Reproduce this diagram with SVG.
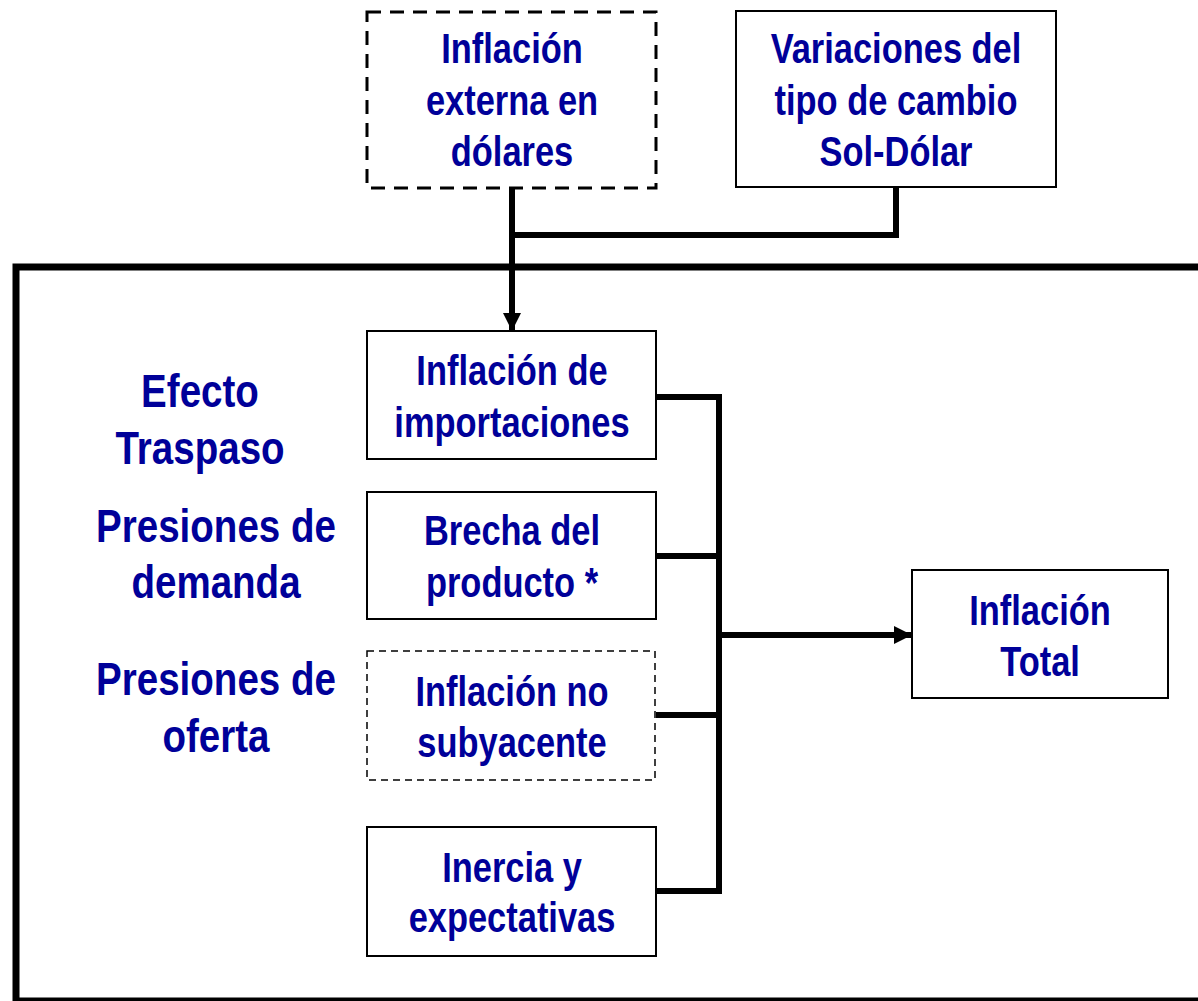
<svg xmlns="http://www.w3.org/2000/svg" width="1198" height="1001" viewBox="0 0 1198 1001">
<style>
text{font-family:"Liberation Sans","Arial",sans-serif;font-weight:bold;fill:#000099;text-anchor:middle}
.t{font-size:42px}
.l{font-size:47px}
.box{fill:#fff;stroke:#000;stroke-width:2}
.dash{fill:#fff;stroke:#000;stroke-width:3;stroke-dasharray:14 9}
.dash2{fill:#fff;stroke:#000;stroke-width:1.5;stroke-dasharray:7 5}
.c{fill:none;stroke:#000;stroke-width:6}
</style>
<defs>
<marker id="ah" viewBox="0 0 10 10" refX="10" refY="5" markerWidth="3" markerHeight="3" orient="auto" markerUnits="strokeWidth">
<path d="M0,0 L10,5 L0,10 z" fill="#000"/>
</marker>
</defs>
<rect id="frame" x="16" y="267" width="1200" height="734" fill="none" stroke="#000" stroke-width="7"/>
<g id="connectors">
<path class="c" d="M512,188 V331" marker-end="url(#ah)"/>
<path class="c" d="M512,235 H896 V188"/>
<path class="c" d="M656,397 H719 V891 H656"/>
<path class="c" d="M656,556 H719"/>
<path class="c" d="M656,715 H719"/>
<path class="c" d="M719,635 H912" marker-end="url(#ah)"/>
</g>
<g id="n-externa">
<rect class="dash" x="367" y="12" width="289" height="176"/>
<g transform="translate(512,0) scale(0.82,1)">
<text class="t" x="0" y="63">Inflación</text>
<text class="t" x="0" y="115">externa en</text>
<text class="t" x="0" y="166">dólares</text>
</g>
</g>
<g id="n-tipo">
<rect class="box" x="736" y="11" width="320" height="176"/>
<g transform="translate(896,0) scale(0.82,1)">
<text class="t" x="0" y="63">Variaciones del</text>
<text class="t" x="0" y="115">tipo de cambio</text>
<text class="t" x="0" y="166">Sol-Dólar</text>
</g>
</g>
<g id="n-importaciones">
<rect class="box" x="367" y="331" width="289" height="128"/>
<g transform="translate(512,0) scale(0.82,1)">
<text class="t" x="0" y="385">Inflación de</text>
<text class="t" x="0" y="437">importaciones</text>
</g>
</g>
<g id="n-brecha">
<rect class="box" x="367" y="492" width="289" height="127"/>
<g transform="translate(512,0) scale(0.82,1)">
<text class="t" x="0" y="545">Brecha del</text>
<text class="t" x="0" y="597">producto *</text>
</g>
</g>
<g id="n-nosub">
<rect class="dash2" x="367" y="651" width="288" height="129"/>
<g transform="translate(512,0) scale(0.82,1)">
<text class="t" x="0" y="706">Inflación no</text>
<text class="t" x="0" y="757">subyacente</text>
</g>
</g>
<g id="n-inercia">
<rect class="box" x="367" y="827" width="289" height="129"/>
<g transform="translate(512,0) scale(0.82,1)">
<text class="t" x="0" y="882">Inercia y</text>
<text class="t" x="0" y="932">expectativas</text>
</g>
</g>
<g id="n-total">
<rect class="box" x="912" y="570" width="256" height="128"/>
<g transform="translate(1040,0) scale(0.82,1)">
<text class="t" x="0" y="625">Inflación</text>
<text class="t" x="0" y="676">Total</text>
</g>
</g>
<g id="labels">
<g transform="translate(200,0) scale(0.82,1)">
<text class="l" x="0" y="407">Efecto</text>
<text class="l" x="0" y="464">Traspaso</text>
</g>
<g transform="translate(216,0) scale(0.82,1)">
<text class="l" x="0" y="542">Presiones de</text>
<text class="l" x="0" y="598">demanda</text>
<text class="l" x="0" y="695">Presiones de</text>
<text class="l" x="0" y="752">oferta</text>
</g>
</g>
</svg>
